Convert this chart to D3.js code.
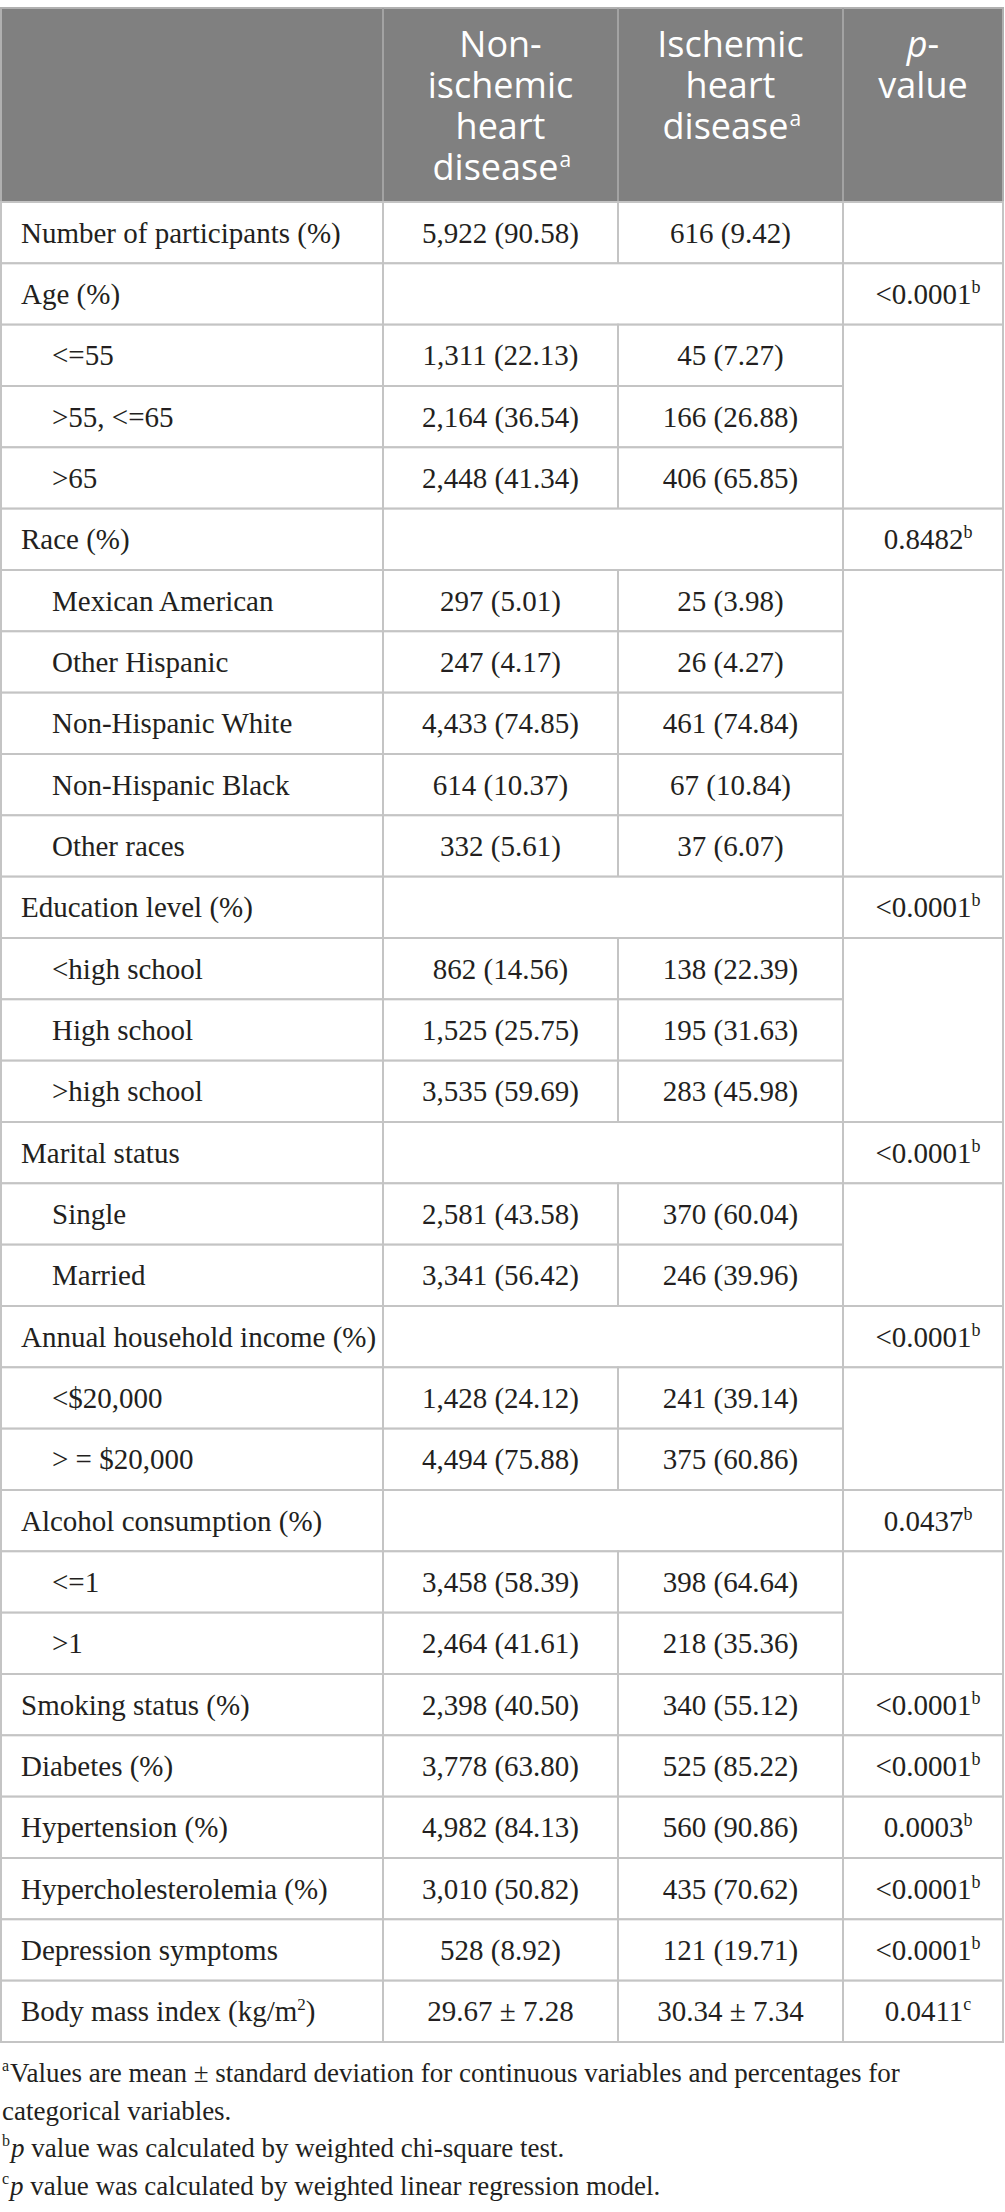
<!DOCTYPE html>
<html lang="en">
<head>
    <meta charset="utf-8">
    <title>Baseline characteristics table</title>
    <script src="https://d3js.org/d3.v7.min.js"></script>
    <style>
        body {
            margin: 0;
            padding: 0;
            background: #ffffff;
        }
        .cell {
            fill: #ffffff;
            stroke: #c4c4c4;
            stroke-width: 2px;
        }
        .body-text {
            font-family: "Liberation Serif", "DejaVu Serif", serif;
            font-size: 29px;
            fill: #231f20;
        }
        .head-text {
            font-family: "Open Sans", sans-serif;
            font-size: 36px;
            fill: #ffffff;
        }
        .note-text {
            font-family: "Liberation Serif", "DejaVu Serif", serif;
            font-size: 27px;
            fill: #231f20;
        }
    </style>
</head>
<body>
    <svg id="table" width="1005" height="2212"></svg>

    <script>
        // header lines per column (last line of the two disease columns carries mark "a")
        const headerLines = [
            [],
            ["Non-", "ischemic", "heart", "disease"],
            ["Ischemic", "heart", "disease"],
            ["p-", "value"]
        ];

        const rowLabels = [
            "Number of participants (%)", "Age (%)", "<=55", ">55, <=65", ">65",
            "Race (%)", "Mexican American", "Other Hispanic", "Non-Hispanic White",
            "Non-Hispanic Black", "Other races", "Education level (%)", "<high school",
            "High school", ">high school", "Marital status", "Single", "Married",
            "Annual household income (%)", "<$20,000", "> = $20,000",
            "Alcohol consumption (%)", "<=1", ">1", "Smoking status (%)", "Diabetes (%)",
            "Hypertension (%)", "Hypercholesterolemia (%)", "Depression symptoms",
            "Body mass index (kg/m"
        ];

        // "single" = ordinary row, "group" = category heading, "sub" = category level
        const rowKinds = [
            "single", "group", "sub", "sub", "sub",
            "group", "sub", "sub", "sub", "sub", "sub",
            "group", "sub", "sub", "sub",
            "group", "sub", "sub",
            "group", "sub", "sub",
            "group", "sub", "sub",
            "single", "single", "single", "single", "single", "single"
        ];

        const nonIschemic = [
            "5,922 (90.58)", "", "1,311 (22.13)", "2,164 (36.54)", "2,448 (41.34)",
            "", "297 (5.01)", "247 (4.17)", "4,433 (74.85)", "614 (10.37)", "332 (5.61)",
            "", "862 (14.56)", "1,525 (25.75)", "3,535 (59.69)",
            "", "2,581 (43.58)", "3,341 (56.42)",
            "", "1,428 (24.12)", "4,494 (75.88)",
            "", "3,458 (58.39)", "2,464 (41.61)",
            "2,398 (40.50)", "3,778 (63.80)", "4,982 (84.13)", "3,010 (50.82)",
            "528 (8.92)", "29.67 \u00b1 7.28"
        ];

        const ischemic = [
            "616 (9.42)", "", "45 (7.27)", "166 (26.88)", "406 (65.85)",
            "", "25 (3.98)", "26 (4.27)", "461 (74.84)", "67 (10.84)", "37 (6.07)",
            "", "138 (22.39)", "195 (31.63)", "283 (45.98)",
            "", "370 (60.04)", "246 (39.96)",
            "", "241 (39.14)", "375 (60.86)",
            "", "398 (64.64)", "218 (35.36)",
            "340 (55.12)", "525 (85.22)", "560 (90.86)", "435 (70.62)",
            "121 (19.71)", "30.34 \u00b1 7.34"
        ];

        const pValues = [
            "", "<0.0001", "", "", "",
            "0.8482", "", "", "", "", "",
            "<0.0001", "", "", "",
            "<0.0001", "", "",
            "<0.0001", "", "",
            "0.0437", "", "",
            "<0.0001", "<0.0001", "0.0003", "<0.0001", "<0.0001", "0.0411"
        ];

        const pMarks = [
            "", "b", "", "", "",
            "b", "", "", "", "", "",
            "b", "", "", "",
            "b", "", "",
            "b", "", "",
            "b", "", "",
            "b", "b", "b", "b", "b", "c"
        ];

        const footMarks = ["a", "", "b", "c"];
        const footItalic = ["", "", "p", "p"];
        const footTexts = [
            "Values are mean \u00b1 standard deviation for continuous variables and percentages for",
            "categorical variables.",
            " value was calculated by weighted chi-square test.",
            " value was calculated by weighted linear regression model."
        ];

        // layout
        const colEdges = [1, 383, 618, 843, 1003];
        const headTop = 8, headBottom = 202, tableBottom = 2042;
        const svg = d3.select("#table");

        const y = d3.scaleBand()
            .domain(d3.range(rowLabels.length))
            .range([headBottom, tableBottom]);

        const x = d3.scaleOrdinal()
            .domain(d3.range(colEdges.length))
            .range(colEdges);

        const colCenter = c => (x(c) + x(c + 1)) / 2;

        // header block
        svg.append("rect")
            .attr("x", x(0)).attr("y", headTop)
            .attr("width", x(4) - x(0)).attr("height", headBottom - headTop)
            .attr("fill", "#808080")
            .attr("stroke", "#b0b0b0")
            .attr("stroke-width", 2);

        svg.selectAll(".head-div")
            .data([1, 2, 3])
            .enter().append("line")
            .attr("x1", d => x(d)).attr("x2", d => x(d))
            .attr("y1", headTop).attr("y2", headBottom)
            .attr("stroke", "#a3a3a3")
            .attr("stroke-width", 2);

        const headG = svg.append("g");
        headerLines.forEach((lines, c) => {
            lines.forEach((line, i) => {
                const base = 57 + i * 41;
                const last = i === lines.length - 1 && c !== 3;
                const t = headG.append("text")
                    .attr("class", "head-text")
                    .attr("text-anchor", "middle")
                    .attr("x", colCenter(c))
                    .attr("y", base);
                if (c === 3 && i === 0) {
                    t.append("tspan").attr("font-style", "italic").text("p");
                    t.append("tspan").text("-");
                } else {
                    t.text(line);
                }
                if (last) {
                    const w = t.node().getComputedTextLength();
                    t.attr("x", colCenter(c) - 5);
                    headG.append("text")
                        .attr("class", "head-text")
                        .style("font-size", "21px")
                        .attr("x", colCenter(c) - 5 + w / 2 + 1)
                        .attr("y", base - 13)
                        .text("a");
                }
            });
        });

        // build the cells, with merged spans
        const cells = [];
        rowLabels.forEach((label, i) => {
            cells.push({ c0: 0, c1: 1, r0: i, r1: i });
            if (rowKinds[i] === "group") {
                cells.push({ c0: 1, c1: 3, r0: i, r1: i });
                // p-value column of the levels below is one merged cell
                let j = i + 1;
                while (j < rowKinds.length && rowKinds[j] === "sub") j++;
                cells.push({ c0: 3, c1: 4, r0: i, r1: i });
                cells.push({ c0: 3, c1: 4, r0: i + 1, r1: j - 1 });
            } else {
                cells.push({ c0: 1, c1: 2, r0: i, r1: i });
                cells.push({ c0: 2, c1: 3, r0: i, r1: i });
                if (rowKinds[i] === "single") cells.push({ c0: 3, c1: 4, r0: i, r1: i });
            }
        });

        svg.append("g")
            .selectAll("rect")
            .data(cells)
            .enter().append("rect")
            .attr("class", "cell")
            .attr("x", d => x(d.c0))
            .attr("y", d => y(d.r0))
            .attr("width", d => x(d.c1) - x(d.c0))
            .attr("height", d => y(d.r1) + y.bandwidth() - y(d.r0));

        const baseline = i => y(i) + y.bandwidth() / 2 + 10;

        // first column labels
        const labels = svg.append("g")
            .selectAll("text")
            .data(rowLabels)
            .enter().append("text")
            .attr("class", "body-text")
            .attr("x", (d, i) => rowKinds[i] === "sub" ? 52 : 21)
            .attr("y", (d, i) => baseline(i))
            .text(d => d);

        // superscript 2 for kg/m2
        labels.filter((d, i) => i === rowLabels.length - 1)
            .each(function() {
                const t = d3.select(this);
                t.append("tspan").attr("font-size", 17).attr("dy", -11).text("2");
                t.append("tspan").attr("dy", 11).text(")");
            });

        // value columns
        [nonIschemic, ischemic].forEach((values, k) => {
            svg.append("g")
                .selectAll("text")
                .data(values)
                .enter().append("text")
                .attr("class", "body-text")
                .attr("text-anchor", "middle")
                .attr("x", colCenter(k + 1))
                .attr("y", (d, i) => baseline(i))
                .text(d => d);
        });

        const pText = svg.append("g")
            .selectAll("text")
            .data(pValues)
            .enter().append("text")
            .attr("class", "body-text")
            .attr("text-anchor", "middle")
            .attr("x", colCenter(3) + 5)
            .attr("y", (d, i) => baseline(i));

        pText.append("tspan").text(d => d);
        pText.append("tspan")
            .attr("font-size", 18)
            .attr("dy", -11)
            .text((d, i) => pMarks[i]);

        // footnotes: mark, then italic p, then the text
        const noteY = i => 2082 + i * 37.5;
        const notes = svg.append("g");
        footTexts.forEach((txt, i) => {
            let cx = 2;
            if (footMarks[i]) {
                const m = notes.append("text")
                    .attr("class", "note-text")
                    .style("font-size", "16px")
                    .attr("x", cx)
                    .attr("y", noteY(i) - 11)
                    .text(footMarks[i]);
                cx += m.node().getComputedTextLength() + 1;
            }
            const t = notes.append("text")
                .attr("class", "note-text")
                .attr("x", cx)
                .attr("y", noteY(i));
            if (footItalic[i]) t.append("tspan").attr("font-style", "italic").text(footItalic[i]);
            t.append("tspan").text(txt);
        });
    </script>
</body>
</html>
